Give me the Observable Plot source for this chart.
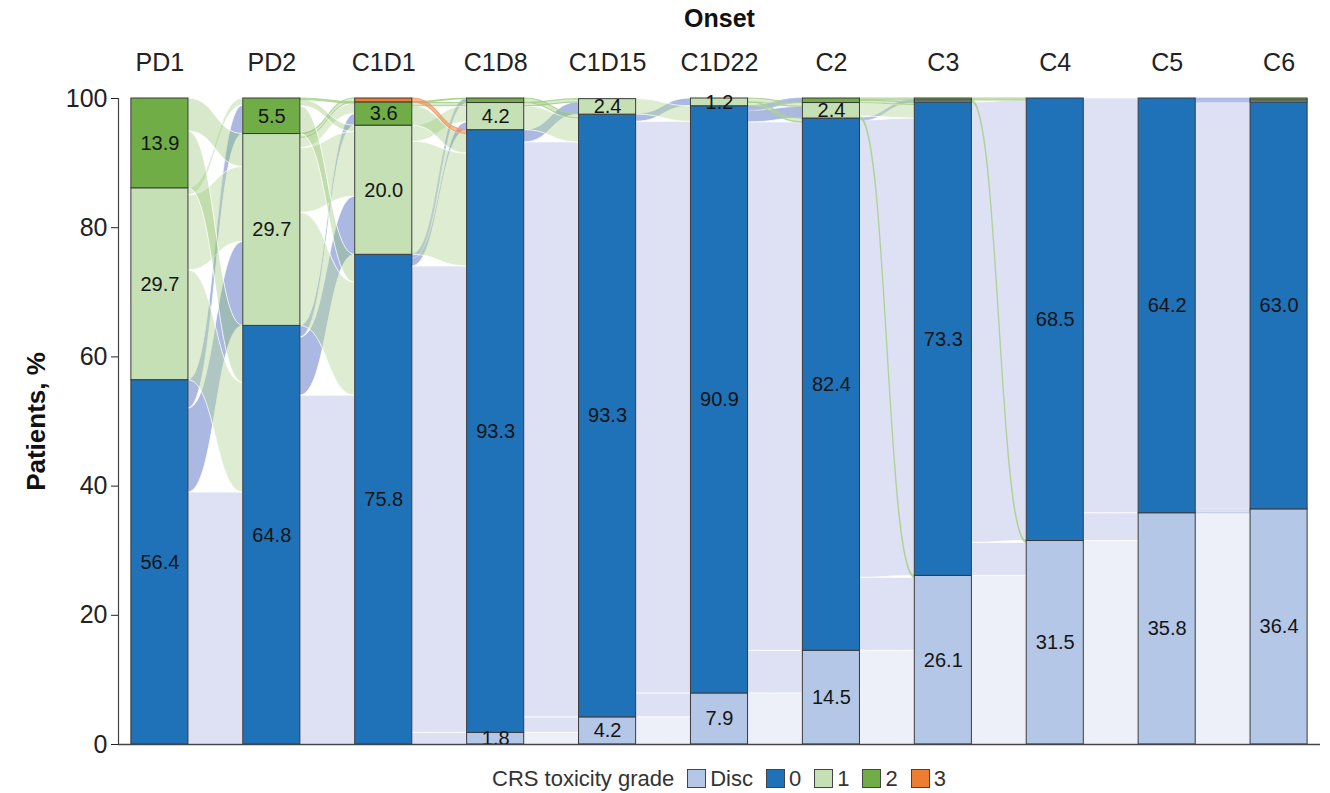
<!DOCTYPE html>
<html><head><meta charset="utf-8">
<script src="https://cdn.jsdelivr.net/npm/d3@7"></script>
<script src="https://cdn.jsdelivr.net/npm/@observablehq/plot@0.6"></script>
<style>
body{margin:0;background:#fff;font-family:"Liberation Sans",Arial,sans-serif;}
#legend{width:1330px;box-sizing:border-box;padding-left:108px;height:33px;display:flex;justify-content:center;align-items:center;font-size:22px;color:#333;}
#legend .sw{display:inline-block;width:19px;height:19px;border:1px solid #444;margin:0 4px 0 13px;box-sizing:border-box;}
</style></head><body><div id="chart"></div><div id="legend"></div>
<script>
// ---- data ----
const timepoints = ["PD1","PD2","C1D1","C1D8","C1D15","C1D22","C2","C3","C4","C5","C6"];
const grades = ["Disc","0","1","2","3"];
const gradeColors = ["#b4c7e7","#1f72b8","#c5e0b4","#70ad47","#ed7d31"];
const pctDisc = [0,0,0,1.8,4.2,7.9,14.5,26.1,31.5,35.8,36.4];
const pct0    = [56.4,64.8,75.8,93.3,93.3,90.9,82.4,73.3,68.5,64.2,63.0];
const pct1    = [29.7,29.7,20.0,4.2,2.4,1.2,2.4,0.3,0,0,0.3];
const pct2    = [13.9,5.5,3.6,0.7,0,0,0.7,0.3,0,0,0.3];
const pct3    = [0,0,0.6,0,0,0,0,0,0,0,0];
// transitions between consecutive time points: [step, from grade, to grade, % of patients]
const transitions = [
  [0,"0","0",39],[0,"0","1",13],[0,"0","2",4.4],[0,"1","0",17],[0,"1","1",11.6],[0,"1","2",1.1],[0,"2","0",8.8],[0,"2","1",5.1],
  [1,"0","0",54],[1,"0","1",9],[1,"0","2",1.8],[1,"1","0",17.5],[1,"1","1",10],[1,"1","2",1.6],[1,"1","3",0.6],[1,"2","0",4.3],[1,"2","1",1.0],[1,"2","2",0.2],
  [2,"0","Disc",1.8],[2,"0","0",72.2],[2,"0","1",1.2],[2,"0","2",0.6],[2,"1","0",17.5],[2,"1","1",2.5],[2,"2","0",3.0],[2,"2","1",0.5],[2,"2","2",0.1],[2,"3","0",0.6],
  [3,"Disc","Disc",1.8],[3,"0","Disc",2.4],[3,"0","0",89],[3,"0","1",1.9],[3,"1","0",3.7],[3,"1","1",0.5],[3,"2","0",0.7],
  [4,"Disc","Disc",4.2],[4,"0","Disc",3.7],[4,"0","0",88.5],[4,"0","1",1.2],[4,"1","0",2.4],
  [5,"Disc","Disc",7.9],[5,"0","Disc",6.6],[5,"0","0",81.8],[5,"0","1",1.8],[5,"0","2",0.7],[5,"1","0",0.6],[5,"1","1",0.6],
  [6,"Disc","Disc",14.5],[6,"0","Disc",11.3],[6,"0","0",70.8],[6,"0","1",0.3],[6,"1","Disc",0.3],[6,"1","0",2.1],[6,"2","0",0.4],[6,"2","2",0.3],
  [7,"Disc","Disc",26.1],[7,"0","Disc",5.1],[7,"0","0",68.2],[7,"1","Disc",0.3],[7,"2","0",0.3],
  [8,"Disc","Disc",31.5],[8,"0","Disc",4.3],[8,"0","0",64.2],
  [9,"Disc","Disc",35.8],[9,"0","Disc",0.6],[9,"0","0",63.0],[9,"0","1",0.3],[9,"0","2",0.3]
];
const yTicks = [0,20,40,60,80,100];

// ---- styling constants ----
const hw = 0.255;               // half bar width in x units
const xDomain = [-0.37, 10.37];
const flowStyle = {
  "Disc": {fill:"#aab5e0", op:0.2},
  "0":    {fill:"#aab5e0", op:0.4, upFill:"#7189cf", upOp:0.6},
  "1":    {fill:"#b5d69b", op:0.45},
  "2":    {fill:"#8cc068", op:0.35},
  "3":    {fill:"#ed7d31", op:0.5}
};

// ---- derived tables ----
const pctByGrade = [pctDisc, pct0, pct1, pct2, pct3];
const segs = [];
const base = timepoints.map(() => ({}));
timepoints.forEach((t, i) => {
  let b = 0;
  grades.forEach((g, gi) => {
    const v = pctByGrade[gi][i];
    base[i][g] = b;
    if (v > 0) segs.push({i, grade: g, y1: b, y2: b + v, v});
    b += v;
  });
});

const gIdx = g => grades.indexOf(g);
const flowMarks = [];
const nSteps = timepoints.length - 1;
for (let s = 0; s < nSteps; s++) {
  const fl = transitions.filter(d => d[0] === s).map(d => ({src: d[1], tgt: d[2], v: d[3]}));
  const srcOff = {}, tgtOff = {};
  grades.forEach(g => { srcOff[g] = base[s][g]; tgtOff[g] = base[s + 1][g]; });
  fl.slice().sort((a, b) => gIdx(a.src) - gIdx(b.src) || gIdx(a.tgt) - gIdx(b.tgt)).forEach(f => {
    f.sy1 = srcOff[f.src]; f.sy2 = f.sy1 + f.v; srcOff[f.src] = f.sy2;
  });
  fl.slice().sort((a, b) => gIdx(a.tgt) - gIdx(b.tgt) || gIdx(a.src) - gIdx(b.src)).forEach(f => {
    f.ty1 = tgtOff[f.tgt]; f.ty2 = f.ty1 + f.v; tgtOff[f.tgt] = f.ty2;
  });
  fl.forEach(f => {
    const st = flowStyle[f.src];
    const up = gIdx(f.tgt) > gIdx(f.src) && st.upFill;
    const fill = up ? st.upFill : st.fill;
    const op = up ? st.upOp : st.op;
    const thin = f.v < 0.8;
    const pts = [
      {x: s + hw, y1: f.sy1, y2: f.sy2},
      {x: s + 1 - hw, y1: f.ty1, y2: f.ty2}
    ];
    flowMarks.push(Plot.areaY(pts, {
      x: "x", y1: "y1", y2: "y2", curve: "bump-x",
      fill, fillOpacity: op,
      stroke: thin ? (f.src === "3" ? "#f0a070" : (f.src === "0" ? "#b8c3ea" : "#a8d08d")) : "white",
      strokeWidth: thin ? 1.2 : 1, strokeOpacity: thin ? 0.9 : 0.8
    }));
  });
}

const plot = Plot.plot({
  width: 1330, height: 762,
  marginLeft: 118, marginRight: 10, marginTop: 98, marginBottom: 18,
  style: {fontFamily: "'Liberation Sans', Arial, sans-serif", background: "white", color: "#222", overflow: "visible"},
  x: {domain: xDomain},
  y: {domain: [0, 100]},
  color: {domain: grades, range: gradeColors},
  marks: [
    ...flowMarks,
    Plot.rect(segs, {x1: d => d.i - hw, x2: d => d.i + hw, y1: "y1", y2: "y2", fill: "grade", stroke: "#3a3a3a", strokeWidth: 1}),
    Plot.text(segs.filter(d => d.v >= 1), {x: "i", y: d => (d.y1 + d.y2) / 2, text: d => d.v.toFixed(1), fontSize: 20, fill: "#141414"}),
    Plot.ruleY([0], {stroke: "#444", strokeWidth: 1.5}),
    Plot.ruleX([xDomain[0]], {stroke: "#444", strokeWidth: 1.2}),
    Plot.axisX({anchor: "top", ticks: d3.range(timepoints.length), tickFormat: i => timepoints[i], tickSize: 0, tickPadding: 28, fontSize: 25, label: null}),
    Plot.axisY({anchor: "left", ticks: yTicks, tickSize: 7, tickPadding: 4, fontSize: 25, label: null}),
    Plot.text(["Onset"], {text: d => d, frameAnchor: "top", dy: -89, fontSize: 25, fontWeight: "bold", fill: "#111"}),
    Plot.text(["Patients, %"], {text: d => d, frameAnchor: "left", textAnchor: "middle", rotate: -90, dx: -82, fontSize: 26, fontWeight: "bold", fill: "#111"})
  ]
});
document.getElementById("chart").appendChild(plot);

// legend
const leg = document.getElementById("legend");
const lab = document.createElement("span"); lab.textContent = "CRS toxicity grade"; leg.appendChild(lab);
grades.forEach((g, gi) => {
  const sw = document.createElement("span"); sw.className = "sw"; sw.style.background = gradeColors[gi]; leg.appendChild(sw);
  const t = document.createElement("span"); t.textContent = g; leg.appendChild(t);
});
</script></body></html>
